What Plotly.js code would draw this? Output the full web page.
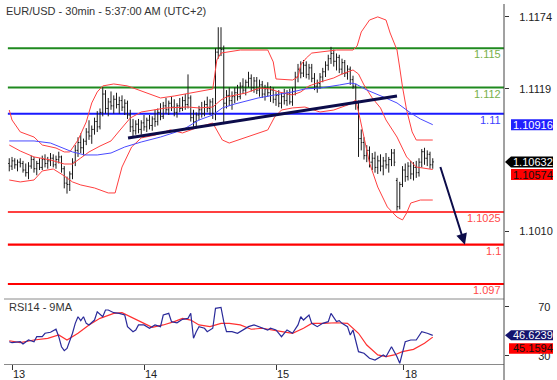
<!DOCTYPE html>
<html><head><meta charset="utf-8">
<script src="https://cdn.plot.ly/plotly-3.0.1.min.js"></script>
<style>html,body{margin:0;padding:0;background:#fff}#chart{width:557px;height:380px}</style>
</head><body><div id="chart"></div>
<script>
// ---------- data ----------
const dayTickPos = [0, 48, 96, 142.5];
const dayTickText = ['13', '14', '15', '18'];
const priceTicks = [1.1174, 1.1119, 1.1010];
const priceTickText = ['1.1174', '1.1119', '1.1010'];
const rsiTicks = [70, 30];
const firstBar = -1;

const opens = [
1.1062,1.1060,1.1064,1.1061,1.1063,1.1062,1.1057,1.1055,1.1060,1.1065,
1.1058,1.1062,1.1059,1.1065,1.1062,1.1064,1.1066,1.1061,1.1065,1.1067,
1.1058,1.1047,1.1046,1.1054,1.1063,1.1072,1.1078,1.1074,1.1079,1.1086,
1.1083,1.1088,1.1094,1.1090,1.1101,1.1115,1.1104,1.1109,1.1106,1.1111,
1.1107,1.1110,1.1105,1.1108,1.1099,1.1090,1.1087,1.1092,1.1088,1.1093,
1.1090,1.1095,1.1091,1.1096,1.1094,1.1101,1.1098,1.1106,1.1103,1.1108,
1.1105,1.1101,1.1106,1.1104,1.1110,1.1107,1.1112,1.1097,1.1094,1.1099,
1.1103,1.1100,1.1107,1.1104,1.1109,1.1100,1.1147,1.1150,1.1149,1.1108,
1.1114,1.1110,1.1113,1.1116,1.1113,1.1121,1.1118,1.1124,1.1127,1.1120,
1.1125,1.1118,1.1122,1.1115,1.1119,1.1116,1.1118,1.1111,1.1114,1.1108,
1.1113,1.1110,1.1115,1.1109,1.1117,1.1128,1.1134,1.1131,1.1137,1.1130,
1.1135,1.1127,1.1121,1.1123,1.1128,1.1132,1.1137,1.1142,1.1146,1.1140,
1.1143,1.1134,1.1139,1.1131,1.1134,1.1126,1.1121,1.1108,1.1081,1.1078,
1.1068,1.1072,1.1063,1.1066,1.1059,1.1064,1.1060,1.1064,1.1061,1.1065,
1.1070,1.1049,1.1029,1.1046,1.1057,1.1052,1.1060,1.1054,1.1059,1.1055,
1.1063,1.1071,1.1066,1.1069,1.1061];
const highs = [
1.1066,1.1067,1.1066,1.1065,1.1066,1.1064,1.1062,1.1063,1.1068,1.1067,
1.1064,1.1066,1.1068,1.1069,1.1067,1.1070,1.1069,1.1068,1.1071,1.1068,
1.1060,1.1052,1.1056,1.1066,1.1076,1.1082,1.1085,1.1081,1.1089,1.1095,
1.1091,1.1097,1.1102,1.1104,1.1120,1.1118,1.1112,1.1117,1.1114,1.1116,
1.1113,1.1114,1.1111,1.1110,1.1103,1.1096,1.1095,1.1096,1.1095,1.1099,
1.1097,1.1099,1.1098,1.1103,1.1104,1.1108,1.1109,1.1112,1.1110,1.1113,
1.1111,1.1108,1.1112,1.1113,1.1115,1.1130,1.1114,1.1103,1.1101,1.1106,
1.1109,1.1110,1.1113,1.1111,1.1112,1.1150,1.1166,1.1166,1.1152,1.1118,
1.1120,1.1117,1.1120,1.1122,1.1124,1.1127,1.1126,1.1132,1.1130,1.1128,
1.1128,1.1126,1.1125,1.1122,1.1124,1.1121,1.1120,1.1117,1.1118,1.1116,
1.1119,1.1118,1.1119,1.1120,1.1132,1.1138,1.1140,1.1141,1.1140,1.1138,
1.1138,1.1131,1.1126,1.1131,1.1135,1.1140,1.1145,1.1151,1.1149,1.1146,
1.1145,1.1142,1.1141,1.1137,1.1136,1.1129,1.1123,1.1110,1.1088,1.1082,
1.1076,1.1075,1.1070,1.1071,1.1068,1.1069,1.1067,1.1070,1.1067,1.1073,
1.1073,1.1051,1.1048,1.1060,1.1062,1.1063,1.1064,1.1063,1.1064,1.1066,
1.1073,1.1074,1.1072,1.1071,1.1066];
const lows = [
1.1056,1.1057,1.1058,1.1056,1.1059,1.1055,1.1052,1.1050,1.1058,1.1055,
1.1053,1.1057,1.1057,1.1059,1.1058,1.1060,1.1059,1.1058,1.1062,1.1055,
1.1043,1.1039,1.1041,1.1050,1.1060,1.1067,1.1070,1.1068,1.1076,1.1080,
1.1077,1.1084,1.1086,1.1088,1.1098,1.1100,1.1098,1.1103,1.1100,1.1104,
1.1100,1.1102,1.1099,1.1096,1.1086,1.1083,1.1084,1.1085,1.1084,1.1087,
1.1086,1.1088,1.1087,1.1090,1.1091,1.1095,1.1096,1.1100,1.1099,1.1102,
1.1098,1.1097,1.1101,1.1102,1.1103,1.1104,1.1094,1.1090,1.1089,1.1095,
1.1097,1.1098,1.1101,1.1099,1.1096,1.1095,1.1142,1.1144,1.1092,1.1104,
1.1106,1.1103,1.1108,1.1110,1.1111,1.1115,1.1114,1.1120,1.1117,1.1116,
1.1115,1.1113,1.1112,1.1110,1.1113,1.1109,1.1108,1.1106,1.1105,1.1104,
1.1107,1.1106,1.1107,1.1106,1.1114,1.1124,1.1127,1.1128,1.1127,1.1126,
1.1124,1.1118,1.1116,1.1119,1.1124,1.1128,1.1133,1.1138,1.1136,1.1133,
1.1131,1.1130,1.1128,1.1126,1.1122,1.1119,1.1103,1.1067,1.1072,1.1065,
1.1063,1.1059,1.1057,1.1055,1.1054,1.1056,1.1053,1.1058,1.1055,1.1060,
1.1060,1.1026,1.1027,1.1044,1.1048,1.1049,1.1050,1.1049,1.1051,1.1052,
1.1059,1.1061,1.1060,1.1058,1.1058];
const closes = [
1.1060,1.1064,1.1061,1.1063,1.1062,1.1057,1.1055,1.1060,1.1065,1.1058,
1.1062,1.1059,1.1065,1.1062,1.1064,1.1066,1.1061,1.1065,1.1067,1.1058,
1.1047,1.1046,1.1054,1.1063,1.1072,1.1078,1.1074,1.1079,1.1086,1.1083,
1.1088,1.1094,1.1090,1.1101,1.1115,1.1104,1.1109,1.1106,1.1111,1.1107,
1.1110,1.1105,1.1108,1.1099,1.1090,1.1087,1.1092,1.1088,1.1093,1.1090,
1.1095,1.1091,1.1096,1.1094,1.1101,1.1098,1.1106,1.1103,1.1108,1.1105,
1.1101,1.1106,1.1104,1.1110,1.1107,1.1112,1.1097,1.1094,1.1099,1.1103,
1.1100,1.1107,1.1104,1.1109,1.1100,1.1147,1.1150,1.1149,1.1108,1.1114,
1.1110,1.1113,1.1116,1.1113,1.1121,1.1118,1.1124,1.1127,1.1120,1.1125,
1.1118,1.1122,1.1115,1.1119,1.1116,1.1118,1.1111,1.1114,1.1108,1.1113,
1.1110,1.1115,1.1109,1.1117,1.1128,1.1134,1.1131,1.1137,1.1130,1.1135,
1.1127,1.1121,1.1123,1.1128,1.1132,1.1137,1.1142,1.1146,1.1140,1.1143,
1.1134,1.1139,1.1131,1.1134,1.1126,1.1121,1.1108,1.1081,1.1078,1.1068,
1.1072,1.1063,1.1066,1.1059,1.1064,1.1060,1.1064,1.1061,1.1065,1.1070,
1.1063,1.1029,1.1046,1.1057,1.1052,1.1060,1.1054,1.1059,1.1055,1.1063,
1.1071,1.1066,1.1069,1.1061,1.10632];

const upperX = [-1,0,3,8,11,16,19,21,24,27,29,31,33,37,42,47,54,59,65,73,74.5,76,83,93,95,96,102,104,105,107,109,118,124,125.5,127,130,133,136,137.5,140,141,142,143.5,145.5,147,153];
const upperY = [1.11028,1.10952,1.10861,1.10822,1.10761,1.10738,1.10708,1.10708,1.10799,1.10937,1.11082,1.11166,1.11212,1.11227,1.11212,1.11173,1.11120,1.11135,1.11158,1.11189,1.11410,1.11463,1.11486,1.11486,1.11395,1.11265,1.11257,1.11280,1.11372,1.11425,1.11463,1.11486,1.11486,1.11517,1.11624,1.11715,1.11739,1.11715,1.11616,1.11486,1.11349,1.11204,1.11028,1.10861,1.10799,1.10799];
const middleX = [-1,3,8,14,19,22,25,28,32,36,39,43,47,51,56,64,68,73,76,78,85,90,94,97,102,105,108,112,117,120,124,126,128,131,134,136,140,143.5,147,153];
const middleY = [1.10761,1.10715,1.10670,1.10647,1.10616,1.10616,1.10662,1.10708,1.10753,1.10792,1.10868,1.10967,1.11013,1.11028,1.11044,1.11051,1.11044,1.11051,1.11105,1.11128,1.11158,1.11196,1.11189,1.11166,1.11143,1.11166,1.11212,1.11242,1.11273,1.11303,1.11334,1.11303,1.11219,1.11120,1.11044,1.10952,1.10822,1.10670,1.10593,1.10574];
const lowerX = [-1,3,8,11,15,18.5,22,25,30,35,37.5,38.5,40,43.5,47,52,57.5,62,68,73,75,76.5,79,88,93,95.5,98,102,106.5,112,117,123,125,126.5,130,133,136.5,140,142,143.5,145,148.5,153];
const lowerY = [1.10494,1.10479,1.10494,1.10563,1.10578,1.10532,1.10479,1.10456,1.10433,1.10395,1.10395,1.10471,1.10593,1.10746,1.10815,1.10837,1.10876,1.10853,1.10899,1.10929,1.10853,1.10799,1.10776,1.10837,1.10876,1.10975,1.11028,1.11044,1.11051,1.11013,1.11028,1.11074,1.11105,1.10967,1.10624,1.10440,1.10288,1.10211,1.10189,1.10242,1.10318,1.10341,1.10341];
const maX = [-1,8,14,18.5,22,26.5,31,36,41,47,54,62,68,73,76.5,81,89.5,95.5,102,106.5,112,119,123,125,129,135,140,145,148.5,153];
const maY = [1.10792,1.10792,1.10776,1.10738,1.10708,1.10685,1.10685,1.10700,1.10746,1.10784,1.10822,1.10876,1.10952,1.10990,1.11044,1.11074,1.11120,1.11143,1.11166,1.11189,1.11196,1.11219,1.11234,1.11227,1.11181,1.11128,1.11082,1.11005,1.10960,1.10916];

const rsiX = [-1,0,3,4,6,8,9,11,12,14,16,17,18,19,20,22,23,24,25,26,27,28,30,31,33,34,35,37,39,41,42,44,45,46,48,50,52,54,55,57,58,60,62,64,65,66,67,68,70,71,73,74,76,77,78,80,82,83,86,88,90,93,94,96,98,100,102,104,105,106,108,109,111,112,113,115,116,118,119,120,122,123,124,126,128,130,132,134,135,136,138,140,141,143,145,147,149,151,153];
const rsiV = [41.4,40.6,41.4,39.6,42.8,41.4,45.5,45.5,48.3,49.1,51.6,45.5,37.3,34.1,36.0,48.3,56.4,61.8,58.6,61.8,56.4,55.1,59.1,65.9,61.8,67.3,67.3,65.1,64.6,63.2,53.7,49.6,51.0,55.1,55.1,52.4,55.1,53.7,63.2,64.6,57.8,56.9,59.7,60.5,64.6,44.2,49.6,53.7,52.4,49.6,52.4,68.7,69.5,57.8,49.6,49.6,48.3,49.6,53.7,55.1,53.7,51.0,52.4,51.0,45.5,51.0,48.3,55.1,61.8,59.1,63.2,56.4,53.7,55.1,56.4,57.8,64.6,57.8,58.6,56.4,53.7,46.9,51.0,33.3,32.0,27.9,26.5,29.2,30.6,29.2,37.3,29.2,23.8,41.4,42.8,42.8,49.6,48.3,46.6239];
const rsiMaX = [-1,3,8,13,17,20,24,28,32,37,40,44,48,51,55,59,62,65,68,72,76,79,83,87,91,96,102,106,109,113,118,122,126,129,133,136,139,142,146,150,153];
const rsiMaV = [42.2,40.6,42.8,44.2,46.9,42.8,48.3,55.1,60.5,64.6,65.1,60.5,56.4,53.2,55.1,57.8,60.5,59.1,55.1,53.7,56.4,56.4,55.1,51.6,52.4,50.5,48.3,52.4,56.4,56.4,56.9,56.4,48.3,38.7,30.6,29.2,30.6,33.3,35.2,40.1,45.1594];

const levelValues = [1.115, 1.112, 1.11, 1.1025, 1.1, 1.097];
const levelLabels = ['1.115', '1.112', '1.11', '1.1025', '1.1', '1.097'];
const trendX = [42.2, 140];
const trendY = [1.10815, 1.11135];
const arrowFrom = [155.6, 1.10605];
const arrowTo = [164.7, 1.1000];
const lastClose = 1.10632, lastMa = 1.10916, lastMid = 1.10574;
const lastRsi = 46.6239, lastRsiMa = 45.1594;

// ---------- styles ----------
const levelLineColors = ['#1f8a1f', '#1f8a1f', '#1a1aff', '#ff0000', '#ff0000', '#ff0000'];
const levelTextColors = ['#78b04a', '#78b04a', '#4040ff', '#ff4a4a', '#ff4a4a', '#ff4a4a'];
const levelWidths = [2, 2, 2, 1.6, 2.2, 2.2];

const barX = opens.map((_, k) => firstBar + k);
const mainBottom = (364 - 299) / 360;

const traces = [
  {type: 'scatter', mode: 'lines', x: upperX, y: upperY, line: {color: '#ff4040', width: 1}, xaxis: 'x', yaxis: 'y'},
  {type: 'scatter', mode: 'lines', x: lowerX, y: lowerY, line: {color: '#ff4040', width: 1}, xaxis: 'x', yaxis: 'y'},
  {type: 'scatter', mode: 'lines', x: middleX, y: middleY, line: {color: '#ff4040', width: 1}, xaxis: 'x', yaxis: 'y'},
  {type: 'scatter', mode: 'lines', x: maX, y: maY, line: {color: '#4a4aff', width: 1}, xaxis: 'x', yaxis: 'y'},
  {type: 'ohlc', x: barX, open: opens, high: highs, low: lows, close: closes,
   increasing: {line: {color: '#1a1a1a', width: 1}}, decreasing: {line: {color: '#1a1a1a', width: 1}},
   tickwidth: 0.4, xaxis: 'x', yaxis: 'y'},
  {type: 'scatter', mode: 'lines', x: trendX, y: trendY, line: {color: '#0c0c4a', width: 3}, xaxis: 'x', yaxis: 'y'},
  {type: 'scatter', mode: 'lines', x: rsiMaX, y: rsiMaV, line: {color: '#ff3030', width: 1.2}, xaxis: 'x', yaxis: 'y2'},
  {type: 'scatter', mode: 'lines', x: rsiX, y: rsiV, line: {color: '#2a2a9a', width: 1.2}, xaxis: 'x', yaxis: 'y2'}
];

const shapes = [];
levelValues.forEach((v, k) => {
  shapes.push({type: 'line', xref: 'x', yref: 'y', x0: -1.5, x1: 180, y0: v, y1: v,
    line: {color: levelLineColors[k], width: levelWidths[k]}, layer: 'below'});
});
shapes.push({type: 'line', xref: 'paper', yref: 'paper', x0: 0, x1: 1, y0: mainBottom, y1: mainBottom, line: {color: '#8a8a8a', width: 1}});
shapes.push({type: 'line', xref: 'paper', yref: 'paper', x0: 1, x1: 1, y0: -0.045, y1: 1, line: {color: '#444', width: 1}});
// value boxes
shapes.push({type: 'rect', xref: 'paper', yref: 'y', x0: 1.014, x1: 1.098, ysizemode: 'pixel', yanchor: lastMa, y0: -5.5, y1: 5.5, fillcolor: '#2020ff', line: {width: 0}});
shapes.push({type: 'path', xref: 'paper', yref: 'y', xsizemode: 'pixel', xanchor: 1.002, ysizemode: 'pixel', yanchor: lastClose,
  path: 'M0,0L6,5.5L48,5.5L48,-5.5L6,-5.5Z', fillcolor: '#000000', line: {width: 0}});
shapes.push({type: 'rect', xref: 'paper', yref: 'y', x0: 1.014, x1: 1.098, ysizemode: 'pixel', yanchor: lastMid, y0: -10.5, y1: 0.5, fillcolor: '#ff0000', line: {width: 0}});
shapes.push({type: 'path', xref: 'paper', yref: 'y2', xsizemode: 'pixel', xanchor: 1.002, ysizemode: 'pixel', yanchor: lastRsi,
  path: 'M0,0L6,5L48,5L48,-5L6,-5Z', fillcolor: '#14146e', line: {width: 0}});
shapes.push({type: 'rect', xref: 'paper', yref: 'y2', x0: 1.010, x1: 1.098, ysizemode: 'pixel', yanchor: lastRsiMa, y0: -16.5, y1: -6, fillcolor: '#ff0000', line: {width: 0}});

const font = 'Liberation Sans, Arial, sans-serif';
const annotations = [];
levelValues.forEach((v, k) => {
  annotations.push({xref: 'paper', yref: 'y', x: 0.998, y: v, xanchor: 'right', yanchor: 'top', yshift: 2,
    text: levelLabels[k], showarrow: false, font: {family: font, size: 11, color: levelTextColors[k]}});
});
function boxText(val, txt, yref, color, shift) {
  annotations.push({xref: 'paper', yref: yref, x: 1.058, y: val, xanchor: 'center', yanchor: 'middle', yshift: shift,
    text: txt, showarrow: false, font: {family: font, size: 11, color: color}});
}
boxText(lastMa, lastMa.toFixed(5), 'y', '#ffffff', 0);
boxText(lastClose, lastClose.toFixed(5), 'y', '#ffffff', 0);
boxText(lastMid, lastMid.toFixed(5), 'y', '#111111', -5);
boxText(lastRsi, lastRsi.toFixed(4), 'y2', '#ffffff', 0);
boxText(lastRsiMa, lastRsiMa.toFixed(4), 'y2', '#111111', -11.2);
annotations.push({xref: 'x', yref: 'y', axref: 'x', ayref: 'y', x: arrowTo[0], y: arrowTo[1], ax: arrowFrom[0], ay: arrowFrom[1],
  showarrow: true, arrowhead: 2, arrowsize: 1.1, arrowwidth: 2, arrowcolor: '#0c0c4a', text: '', standoff: 0});
annotations.push({xref: 'paper', yref: 'paper', x: 0.006, y: (364 - 306.5) / 360, xanchor: 'left', yanchor: 'middle',
  text: 'RSI14 - 9MA', showarrow: false, font: {family: font, size: 11, color: '#333'}});

const layout = {
  width: 557, height: 380,
  margin: {l: 4, r: 53, t: 4, b: 16, pad: 0},
  paper_bgcolor: '#ffffff', plot_bgcolor: '#ffffff',
  showlegend: false, hovermode: false,
  font: {family: font, size: 11, color: '#333'},
  title: {text: 'EUR/USD - 30min - 5:37:00 AM (UTC+2)', x: 6 / 557, xanchor: 'left', y: 1 - 11 / 380, yanchor: 'middle',
    font: {family: font, size: 11, color: '#333'}},
  xaxis: {range: [-2.909, 178.909], anchor: 'y2', tickvals: dayTickPos, ticktext: dayTickText,
    ticks: 'outside', ticklen: 5, tickcolor: '#333', showline: true, linecolor: '#8a8a8a', linewidth: 1,
    ticklabelposition: 'outside right', tickfont: {family: font, size: 11, color: '#222'},
    showgrid: false, zeroline: false, rangeslider: {visible: false}, fixedrange: true},
  yaxis: {domain: [mainBottom, 1], range: [1.095855, 1.118374], side: 'right', tickvals: priceTicks, ticktext: priceTickText,
    ticks: 'outside', ticklen: 4, tickcolor: '#333', showline: false, showgrid: false, zeroline: false,
    ticklabelstandoff: 8, tickfont: {family: font, size: 11, color: '#222'}, fixedrange: true},
  yaxis2: {domain: [0, mainBottom], range: [23.22, 76.29], side: 'right', tickvals: rsiTicks,
    ticks: 'outside', ticklen: 4, tickcolor: '#333', showline: false, showgrid: false, zeroline: false,
    ticklabelstandoff: 27, tickfont: {family: font, size: 11, color: '#222'}, fixedrange: true},
  shapes: shapes,
  annotations: annotations
};

Plotly.newPlot('chart', traces, layout, {staticPlot: true, displayModeBar: false});
</script>
</body></html>
